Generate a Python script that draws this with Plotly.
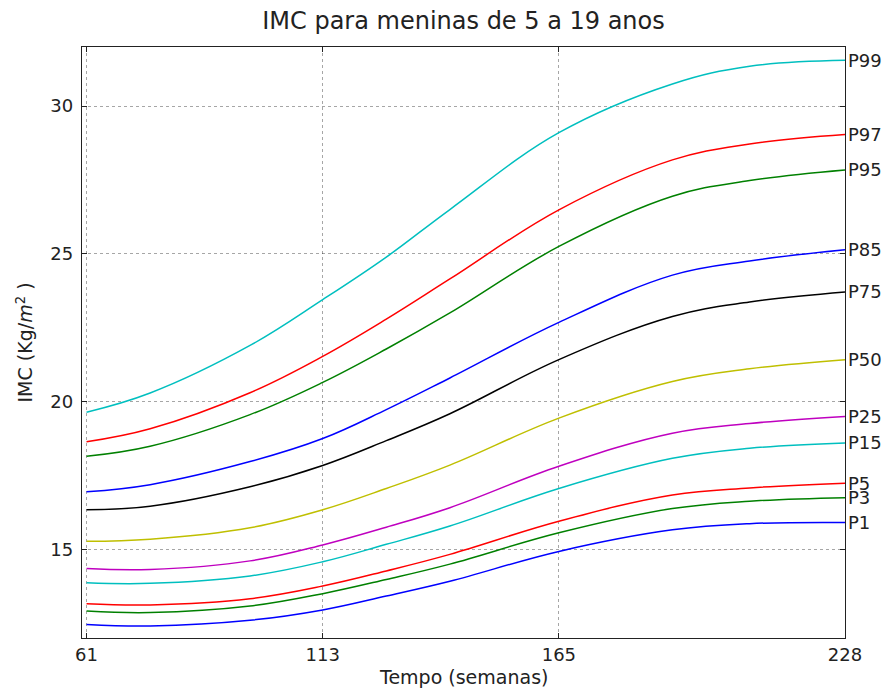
import plotly.graph_objects as go

months = [61, 75, 97, 113, 127, 141, 165, 190, 207, 228]

P99 = [19.64, 20.29, 21.90, 23.45, 24.89, 26.50, 29.10, 30.75, 31.35, 31.55]
P97 = [18.64, 19.08, 20.30, 21.53, 22.79, 24.15, 26.49, 28.18, 28.72, 29.04]
P95 = [18.15, 18.49, 19.56, 20.65, 21.78, 23.00, 25.25, 26.95, 27.48, 27.84]
P85 = [16.95, 17.19, 17.97, 18.75, 19.73, 20.80, 22.68, 24.28, 24.76, 25.14]
P75 = [16.34, 16.46, 17.12, 17.84, 18.68, 19.59, 21.42, 22.88, 23.37, 23.71]
P50 = [15.27, 15.34, 15.73, 16.34, 17.06, 17.85, 19.44, 20.68, 21.11, 21.42]
P25 = [14.35, 14.32, 14.61, 15.15, 15.75, 16.41, 17.81, 18.93, 19.26, 19.50]
P15 = [13.87, 13.85, 14.10, 14.58, 15.17, 15.79, 17.06, 18.08, 18.42, 18.60]
P5 = [13.16, 13.12, 13.33, 13.76, 14.27, 14.83, 15.95, 16.84, 17.08, 17.24]
P3 = [12.91, 12.86, 13.08, 13.50, 13.98, 14.50, 15.56, 16.38, 16.63, 16.75]
P1 = [12.46, 12.41, 12.60, 12.95, 13.42, 13.92, 14.93, 15.66, 15.87, 15.91]

series_names = ["P1", "P3", "P5", "P15", "P25", "P50", "P75", "P85", "P95", "P97", "P99"]
series_values = [P1, P3, P5, P15, P25, P50, P75, P85, P95, P97, P99]
colors = ["#0000ff", "#008000", "#ff0000", "#00bfbf", "#bf00bf", "#bfbf00",
          "#000000", "#0000ff", "#008000", "#ff0000", "#00bfbf"]

x_ticks = [61, 113, 165, 228]
y_ticks = [15, 20, 25, 30]

FONT = "DejaVu Sans"
TXT = "#222222"
fig = go.Figure()
for name, vals, col in zip(series_names, series_values, colors):
    fig.add_trace(go.Scatter(x=months, y=vals, mode="lines", name=name,
                             line=dict(color=col, width=1.5, shape="spline", smoothing=1.1),
                             showlegend=False, cliponaxis=False))
    fig.add_annotation(x=months[-1], y=vals[-1], xref="x", yref="y", text=name,
                       showarrow=False, xanchor="left", yanchor="middle", xshift=1,
                       font=dict(family=FONT, size=18, color=TXT))

fig.add_annotation(x=0.5, y=0, xref="paper", yref="paper", yshift=-39,
                   text="Tempo (semanas)", showarrow=False, xanchor="center", yanchor="middle",
                   font=dict(family=FONT, size=19, color=TXT))
fig.add_annotation(x=0, y=0.5, xref="paper", yref="paper", xshift=-58,
                   text="IMC (Kg/<i>m</i><sup>2</sup> )", showarrow=False, textangle=-90,
                   xanchor="center", yanchor="middle",
                   font=dict(family=FONT, size=19, color=TXT))

axis_common = dict(showline=True, linecolor=TXT, linewidth=1.3, mirror="ticks",
                   ticks="inside", ticklen=5, tickcolor=TXT, automargin=False,
                   showgrid=True, gridcolor="rgba(0,0,0,0.35)", griddash="dot", gridwidth=1,
                   zeroline=False, tickfont=dict(family=FONT, size=18, color=TXT))

# the page body has an 8px margin, so the figure is drawn from (8, 8)
fig.update_layout(
    width=883, height=685,
    margin=dict(l=74, r=46, t=39, b=55),
    paper_bgcolor="white", plot_bgcolor="white",
    title=dict(text="IMC para meninas de 5 a 19 anos", x=0.5, xref="paper",
               y=1 - 13 / 685, yref="container", yanchor="middle",
               font=dict(family=FONT, size=24, color=TXT)),
    xaxis=dict(range=[60, 228], tickvals=x_ticks, ticktext=[str(v) for v in x_ticks],
               **axis_common),
    yaxis=dict(range=[12, 32], tickvals=y_ticks, ticktext=[str(v) for v in y_ticks],
               ticklabelstandoff=4, **axis_common),
)

fig.write_html("out.html")
